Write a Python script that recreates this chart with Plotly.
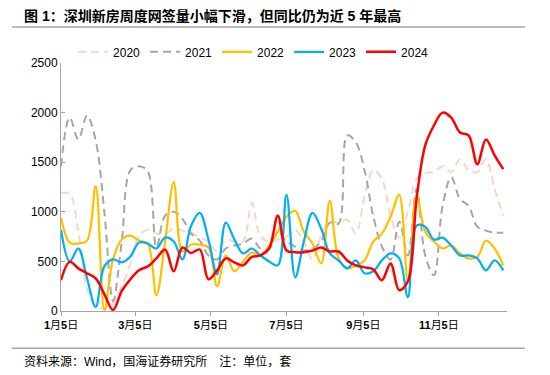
import pandas as pd
import plotly.graph_objects as go

weeks = pd.date_range("2024-01-05", periods=52, freq="7D")

tick_dates = ["2024-01-05", "2024-03-05", "2024-05-05", "2024-07-05", "2024-09-05", "2024-11-05"]
tick_labels = ["<b>1</b>月<b>5</b>日", "<b>3</b>月<b>5</b>日", "<b>5</b>月<b>5</b>日",
               "<b>7</b>月<b>5</b>日", "<b>9</b>月<b>5</b>日", "<b>11</b>月<b>5</b>日"]

y2020 = [1190, 1180, 800, 220, 50, 30, 80, 250, 480, 760, 820, 780, 780, 830, 810, 790, 740, 700,
         600, 720, 700, 700, 1090, 750, 700, 720, 750, 820, 700, 520, 760, 900, 890, 920, 780, 1150,
         1420, 1330, 960, 740, 1000, 1330, 1390, 1400, 1460, 1400, 1530, 1420, 1400, 1530, 1230, 960]
y2021 = [1460, 1950, 1730, 1970, 1720, 1000, 100, 700, 1420, 1460, 1410, 640, 960, 1000, 930, 780,
         710, 560, 520, 630, 660, 680, 730, 630, 630, 800, 700, 650, 610, 630, 700, 890, 880, 1770,
         1700, 1420, 960, 650, 520, 900, 560, 1230, 560, 360, 1060, 1350, 1130, 1060, 850, 810, 790, 790]
y2022 = [940, 690, 680, 710, 1260, 10, 520, 720, 760, 710, 680, 160, 700, 1300, 600, 670, 670, 640,
         250, 560, 400, 500, 590, 560, 660, 800, 950, 1010, 800, 680, 480, 1110, 530, 430, 460, 510,
         700, 780, 950, 1170, 300, 1160, 800, 700, 630, 660, 580, 530, 545, 710, 630, 460]
y2023 = [820, 500, 630, 330, 40, 450, 520, 490, 550, 690, 680, 630, 740, 700, 520, 860, 990, 720,
         370, 890, 720, 580, 630, 560, 500, 460, 1170, 340, 700, 990, 830, 580, 510, 430, 510, 380,
         400, 510, 580, 530, 140, 860, 850, 720, 740, 660, 560, 560, 530, 410, 510, 410]
y2024 = [310, 495, 430, 380, 330, 170, 10, 200, 320, 410, 450, 530, 620, 400, 640, 585, 620, 320,
         410, 530, 490, 460, 545, 560, 630, 960, 610, 593, 593, 610, 640, 600, 600, 510, 460, 440,
         420, 310, 480, 210, 300, 1130, 1670, 1870, 2000, 1950, 1800, 1770, 1480, 1730, 1570, 1430]

series = [
    ("2020", y2020, "#F9D5C4", 2, "8px,5px"),
    ("2021", y2021, "#A6A6A6", 2, "8px,5px"),
    ("2022", y2022, "#FFC000", 2.25, "solid"),
    ("2023", y2023, "#00B0F0", 2.25, "solid"),
    ("2024", y2024, "#FF0000", 2.5, "solid"),
]

fig = go.Figure()
for name, ys, color, width, dash in series:
    fig.add_trace(go.Scatter(
        x=weeks, y=ys, name=name, mode="lines",
        line=dict(color=color, width=width, dash=dash, shape="spline", smoothing=1.0),
        cliponaxis=True,
    ))

font_family = "Liberation Sans, Arial, Noto Sans CJK SC, sans-serif"

fig.update_layout(
    width=550, height=375,
    margin=dict(l=61, r=43, t=63, b=64),
    paper_bgcolor="white", plot_bgcolor="white",
    font=dict(family=font_family, size=12, color="#000000"),
    showlegend=True,
    legend=dict(orientation="h", x=0.027, xanchor="left", y=1.045, yanchor="middle",
                yref="paper", font=dict(size=12, color="#000000"),
                entrywidth=27, entrywidthmode="pixels", itemwidth=30,
                bgcolor="rgba(0,0,0,0)", traceorder="normal"),
    xaxis=dict(type="date", range=["2024-01-05", "2024-12-30"],
               tickvals=tick_dates, ticktext=tick_labels,
               showgrid=False, zeroline=False, showline=True,
               linecolor="#A6A6A6", linewidth=1, ticks="outside", ticklen=4,
               tickcolor="#A6A6A6", tickfont=dict(size=11, color="#000000")),
    yaxis=dict(range=[0, 2500], dtick=500, showgrid=False, zeroline=False,
               showline=True, linecolor="#A6A6A6", linewidth=1,
               ticks="inside", ticklen=4, tickcolor="#A6A6A6",
               tickfont=dict(size=12, color="#000000")),
)

# title, separators and source note
fig.add_annotation(text="<b>图 1：深圳新房周度网签量小幅下滑，但同比仍为近 5 年最高</b>",
                   xref="paper", yref="paper", x=-0.088, y=1.19, xanchor="left", yanchor="middle",
                   showarrow=False, font=dict(size=14, color="#000000", family=font_family))
fig.add_annotation(text="资料来源：Wind，国海证券研究所　注：单位，套",
                   xref="paper", yref="paper", x=-0.088, y=-0.205, xanchor="left", yanchor="middle",
                   showarrow=False, font=dict(size=12, color="#000000", family=font_family))
for yy in [1.145, -0.15]:
    fig.add_shape(type="line", xref="paper", yref="paper", x0=-0.11, x1=1.04, y0=yy, y1=yy,
                  line=dict(color="#A6A6A6", width=1.5))

fig.write_html("out.html", config={"displayModeBar": False},
               post_script="document.body.style.margin='0';")
